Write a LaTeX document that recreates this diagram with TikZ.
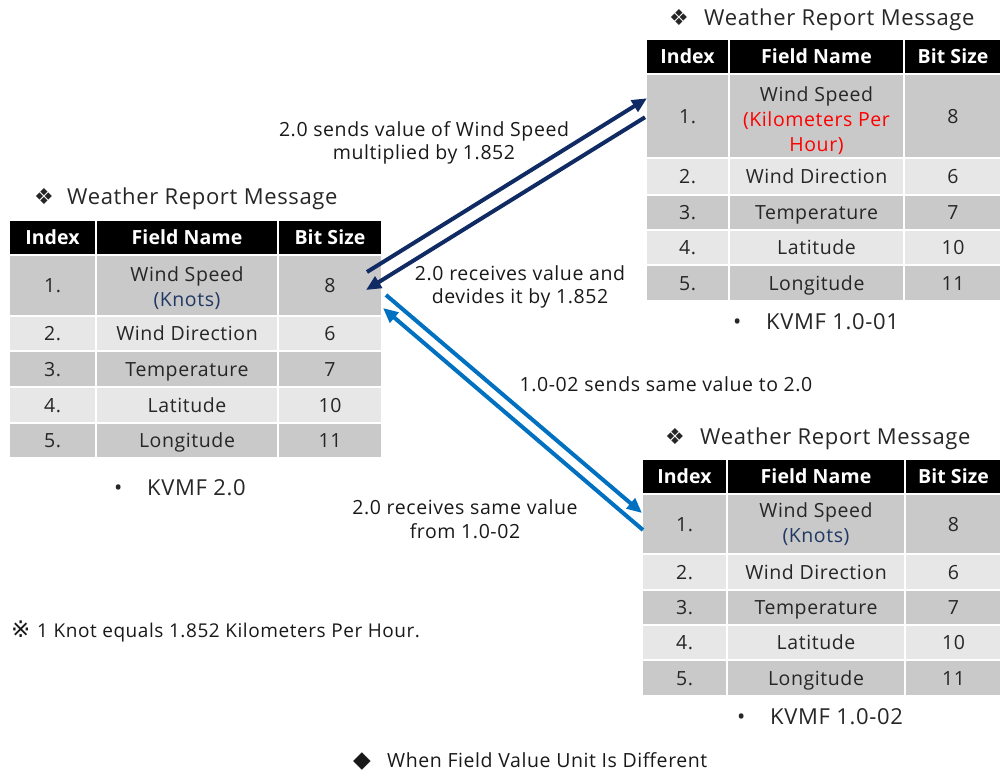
\documentclass[tikz,border=0pt]{standalone}
\usepackage{fontspec}
\setmainfont{Open Sans}[LetterSpace=3,BoldFeatures={LetterSpace=0.5}]
\newfontfamily\symf{DejaVu Sans}
\usetikzlibrary{arrows.meta,calc}

\definecolor{rowD}{RGB}{201,201,201}
\definecolor{rowL}{RGB}{231,231,231}
\definecolor{ink}{RGB}{38,38,38}
\definecolor{knot}{RGB}{32,56,100}
\definecolor{kmh}{RGB}{255,0,0}
\definecolor{navy}{RGB}{16,42,100}
\definecolor{sky}{RGB}{0,112,192}

\newcommand{\cellfont}{\fontsize{19.5}{25}\selectfont}
\newcommand{\headfont}{\bfseries\fontsize{19.5}{25}\selectfont}
\newcommand{\titlefont}{\fontsize{22}{26}\selectfont}
\newcommand{\verfont}{\fontsize{22}{26}\selectfont}
\newcommand{\notefont}{\fontsize{19.5}{23.5}\selectfont}
\newcommand{\diamondmark}{{\symf\fontsize{22}{26}\selectfont ❖}}

% one table cell: style, name, x0, x1, y0, y1, text
\newcommand{\wrcell}[7]{\node[#1,minimum width={(#4-#3)*1pt},minimum height={(#6-#5)*1pt}] (#2) at ({(#3+#4)/2},{(#5+#6)/2}) {#7};}
% one table row on the column grid \cxA..\cxD: style, name, y0, y1, three texts
\newcommand{\wrrow}[7]{%
  \wrcell{#1}{#2-i}{\cxA}{\cxB}{#3}{#4}{#5}%
  \wrcell{#1}{#2-f}{\cxB}{\cxC}{#3}{#4}{#6}%
  \wrcell{#1}{#2-b}{\cxC}{\cxD}{#3}{#4}{#7}}

\tikzset{
  cell/.style={draw=white, line width=2pt, inner sep=0pt, outer sep=0pt,
    text=ink, font=\cellfont, text height=14pt, text depth=0pt},
  head/.style={cell, fill=black, text=white, font=\headfont},
  dk/.style={cell, fill=rowD},
  lt/.style={cell, fill=rowL},
  wrap/.style={text=ink, font=\cellfont, align=center, inner sep=0pt},
  ttl/.style={text=ink, font=\titlefont, inner sep=0pt, anchor=base west},
  ver/.style={text=ink, font=\verfont, inner sep=0pt, anchor=base west},
  lbl/.style={text=black!90, font=\notefont, align=center, inner sep=0pt},
  flow/.style={line width=4pt, -{Triangle[length=15pt,width=13pt]}},
}

\begin{document}
\begin{tikzpicture}[x=1pt,y=-1pt]
\useasboundingbox (0,0) rectangle (1000,773);

% ---- KVMF 2.0 ----
\node[ttl] (L-title) at (34,204) {\makebox[33pt][l]{\diamondmark}Weather Report Message};
\def\cxA{9}\def\cxB{96}\def\cxC{278}\def\cxD{382}
\wrrow{head}{L-h}{220}{255}{Index}{Field Name}{Bit Size}
\wrrow{dk}{L-1}{255}{316}{1.}{}{8}
\node[wrap] (L-1-t) at (187,288.5) {Wind Speed\\\textcolor{knot}{(Knots)}};
\wrrow{lt}{L-2}{316}{351}{2.}{Wind Direction}{6}
\wrrow{dk}{L-3}{351}{387}{3.}{Temperature}{7}
\wrrow{lt}{L-4}{387}{423}{4.}{Latitude}{10}
\wrrow{dk}{L-5}{423}{458}{5.}{Longitude}{11}
\node[ver] (L-ver) at (114,495) {\makebox[33pt][l]{•}KVMF 2.0};

% ---- KVMF 1.0-01 ----
\node[ttl] (T-title) at (669,26) {\makebox[35pt][l]{\diamondmark}Weather Report Message};
\def\cxA{646}\def\cxB{729}\def\cxC{904}\def\cxD{1002}
\wrrow{head}{T-h}{39}{74.5}{Index}{Field Name}{Bit Size}
\wrrow{dk}{T-1}{74.5}{158}{1.}{}{8}
\node[wrap] (T-1-t) at (816.5,120.4) {Wind Speed\\\textcolor{kmh}{(Kilometers Per}\\\textcolor{kmh}{Hour)}};
\wrrow{lt}{T-2}{158}{194.5}{2.}{Wind Direction}{6}
\wrrow{dk}{T-3}{194.5}{230}{3.}{Temperature}{7}
\wrrow{lt}{T-4}{230}{265}{4.}{Latitude}{10}
\wrrow{dk}{T-5}{265}{301}{5.}{Longitude}{11}
\node[ver] (T-ver) at (733,329) {\makebox[33pt][l]{•}KVMF 1.0-01};

% ---- KVMF 1.0-02 ----
\node[ttl] (B-title) at (665,444) {\makebox[35pt][l]{\diamondmark}Weather Report Message};
\def\cxA{642}\def\cxB{727}\def\cxC{905}\def\cxD{1002}
\wrrow{head}{B-h}{459}{494}{Index}{Field Name}{Bit Size}
\wrrow{dk}{B-1}{494}{554}{1.}{}{8}
\node[wrap] (B-1-t) at (816,524.2) {Wind Speed\\\textcolor{knot}{(Knots)}};
\wrrow{lt}{B-2}{554}{590}{2.}{Wind Direction}{6}
\wrrow{dk}{B-3}{590}{625}{3.}{Temperature}{7}
\wrrow{lt}{B-4}{625}{660}{4.}{Latitude}{10}
\wrrow{dk}{B-5}{660}{696}{5.}{Longitude}{11}
\node[ver] (B-ver) at (737,724) {\makebox[33pt][l]{•}KVMF 1.0-02};

% ---- connector end points on the wind speed rows ----
\coordinate (a1s) at ($(L-1-b.east)+(-15,-13.5)$);
\coordinate (a2e) at ($(L-1-b.east)+(-16,4.5)$);
\coordinate (b1s) at ($(L-1-b.east)+(4,9.5)$);
\coordinate (b2e) at ($(L-1-b.east)+(1,22.5)$);
\coordinate (a1e) at ($(T-1-i.west)+(1,-18)$);
\coordinate (a2s) at ($(T-1-i.west)+(-1,1)$);
\coordinate (b1e) at ($(B-1-i.west)+(0,-11)$);
\coordinate (b2s) at ($(B-1-i.west)+(1,6)$);

\draw[flow, navy] (a1s) -- (a1e);
\draw[flow, navy] (a2s) -- (a2e);
\draw[flow, sky] (b1s) -- (b1e);
\draw[flow, sky] (b2s) -- (b2e);

% ---- notes on the connectors ----
\node[lbl] (n1) at (424,143) {2.0 sends value of Wind Speed\\multiplied by 1.852};
\node[lbl] (n2) at (520,287) {2.0 receives value and\\devides it by 1.852};
\node[lbl, anchor=base] (n3) at (666,391) {1.0-02 sends same value to 2.0};
\node[lbl] (n4) at (465,519) {2.0 receives same value\\from 1.0-02};

% ---- footnote and caption ----
\node[lbl, anchor=base west, font=\fontsize{19}{23.5}\selectfont] (foot) at (11,637) {\makebox[26pt][l]{\symf\fontsize{23}{26}\selectfont ※}1 Knot equals 1.852 Kilometers Per Hour.};
\node[lbl, anchor=base west] (cap) at (353,767) {\makebox[34pt][l]{\symf\fontsize{23}{26}\selectfont ◆}When Field Value Unit Is Different};
\end{tikzpicture}
\end{document}
